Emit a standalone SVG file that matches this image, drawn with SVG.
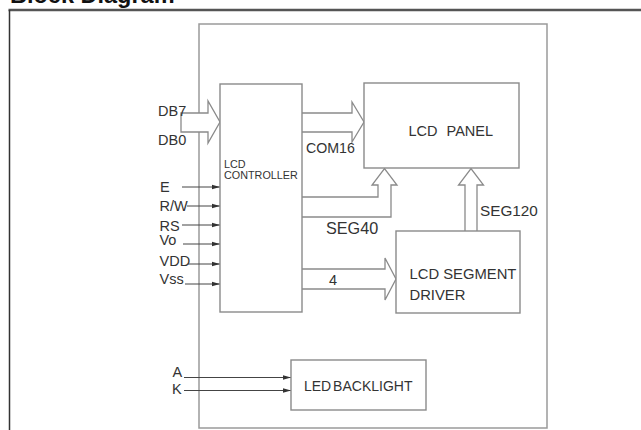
<svg xmlns="http://www.w3.org/2000/svg" width="641" height="430" viewBox="0 0 641 430">
<style>
text{font-family:"Liberation Sans",Arial,sans-serif;fill:#333;}
.lbl{font-size:14.5px;}
.box{fill:#fff;stroke:#8a8a8a;stroke-width:1.4;}
.bus{fill:#fff;stroke:#8a8a8a;stroke-width:1.3;stroke-linejoin:miter;}
.sig{stroke:#444;stroke-width:1;fill:none;}
</style>
<defs>
<marker id="ah" markerWidth="8" markerHeight="6" refX="8" refY="3" orient="auto" markerUnits="userSpaceOnUse">
<path d="M0,0.8 L8,3 L0,5.2 Z" fill="#333"/>
</marker>
</defs>
<rect width="641" height="430" fill="#fff"/>
<text x="10" y="3" style="font-size:23.5px;font-weight:bold;fill:#111">Block Diagram</text>
<g id="frame">
<line x1="8.5" y1="10" x2="641" y2="10" stroke="#555" stroke-width="2.5"/>
<line x1="9.5" y1="10" x2="9.5" y2="430" stroke="#333" stroke-width="1.5"/>
<rect x="199" y="24" width="348" height="404" fill="none" stroke="#9a9a9a" stroke-width="1.5"/>
</g>
<g id="connectors">
<path class="bus" d="M181,113 L208,113 L208,101 L220,122 L208,143 L208,132 L181,132 Z"/>
<path class="bus" d="M302,113 L352,113 L352,102 L364,122 L352,142 L352,132 L302,132"/>
<path class="bus" d="M302,197 L378,197 L378,185 L372,185 L384.5,168.5 L397,185 L391,185 L391,217 L302,217"/>
<path class="bus" d="M465,231 L465,185 L458.5,185 L471,168.5 L483.5,185 L477,185 L477,231"/>
<path class="bus" d="M302,269 L385,269 L385,258 L396,279 L385,300 L385,289 L302,289"/>
<line class="sig" x1="182" y1="187" x2="220" y2="187" marker-end="url(#ah)"/>
<line class="sig" x1="187" y1="206" x2="220" y2="206" marker-end="url(#ah)"/>
<line class="sig" x1="182" y1="225" x2="220" y2="225" marker-end="url(#ah)"/>
<line class="sig" x1="183" y1="244" x2="220" y2="244" marker-end="url(#ah)"/>
<line class="sig" x1="188" y1="264" x2="220" y2="264" marker-end="url(#ah)"/>
<line class="sig" x1="185" y1="284" x2="220" y2="284" marker-end="url(#ah)"/>
<line class="sig" x1="184" y1="377.5" x2="291" y2="377.5" marker-end="url(#ah)"/>
<line class="sig" x1="184" y1="390.5" x2="291" y2="390.5" marker-end="url(#ah)"/>
<text x="306" y="152.7" style="font-size:14.2px">COM16</text>
<text x="326" y="234.3" style="font-size:16.2px">SEG40</text>
<text x="480" y="215.5" style="font-size:15.3px">SEG120</text>
<text class="lbl" x="329" y="285">4</text>
</g>
<g id="signals">
<text class="lbl" x="158" y="115.5">DB7</text>
<text class="lbl" x="158" y="145">DB0</text>
<text class="lbl" x="160" y="192">E</text>
<text class="lbl" x="159.5" y="210.5">R/W</text>
<text class="lbl" x="159.5" y="230.5">RS</text>
<text class="lbl" x="159.5" y="245">Vo</text>
<text class="lbl" x="159.5" y="265.5">VDD</text>
<text class="lbl" x="159.5" y="284">Vss</text>
<text class="lbl" x="172.5" y="376.5">A</text>
<text class="lbl" x="172" y="394">K</text>
</g>
<g id="lcd-controller">
<rect class="box" x="220" y="84" width="82" height="228"/>
<text x="224" y="167.5" style="font-size:10.8px">LCD</text>
<text x="224" y="179" style="font-size:10.8px">CONTROLLER</text>
</g>
<g id="lcd-panel">
<rect class="box" x="364" y="83" width="155" height="85"/>
<text class="lbl" x="408.5" y="136" style="word-spacing:5px">LCD PANEL</text>
</g>
<g id="lcd-segment-driver">
<rect class="box" x="396" y="231" width="124" height="82"/>
<text x="409.5" y="278.5" style="font-size:14.8px">LCD SEGMENT</text>
<text x="409.5" y="299.5" style="font-size:14.8px">DRIVER</text>
</g>
<g id="led-backlight">
<rect class="box" x="291" y="360" width="135" height="50"/>
<text x="304" y="391" style="font-size:14px;word-spacing:-2px">LED BACKLIGHT</text>
</g>
</svg>
